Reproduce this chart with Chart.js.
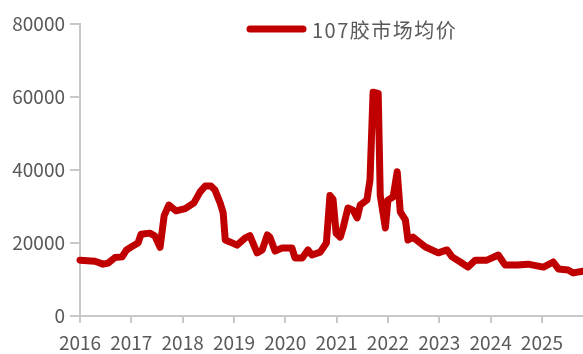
<!DOCTYPE html>
<html lang="zh">
<head>
    <meta charset="utf-8">
    <title>107胶市场均价</title>
    <script src="https://cdn.jsdelivr.net/npm/chart.js"></script>
    <style>
        body { margin: 0; background: #fff; }
    </style>
</head>
<body>
    <canvas id="priceChart" width="583" height="354"></canvas>
    <script>
        // 数据 (年份为小数位置)
        var seriesName = '107胶市场均价';
        var years = [
            2016.00, 2016.29, 2016.45, 2016.55, 2016.68, 2016.82, 2016.90, 2017.03, 2017.13, 2017.19,
            2017.36, 2017.46, 2017.56, 2017.64, 2017.73, 2017.87, 2018.05, 2018.22, 2018.34, 2018.44,
            2018.55, 2018.63, 2018.73, 2018.79, 2018.83, 2018.92, 2019.06, 2019.22, 2019.31, 2019.45,
            2019.55, 2019.65, 2019.70, 2019.80, 2019.94, 2020.13, 2020.19, 2020.33, 2020.44, 2020.52,
            2020.68, 2020.80, 2020.87, 2020.93, 2020.99, 2021.07, 2021.13, 2021.22, 2021.32, 2021.40,
            2021.46, 2021.59, 2021.65, 2021.71, 2021.81, 2021.85, 2021.95, 2022.00, 2022.10, 2022.18,
            2022.24, 2022.34, 2022.39, 2022.49, 2022.63, 2022.73, 2022.98, 2023.15, 2023.25, 2023.41,
            2023.56, 2023.70, 2023.93, 2024.15, 2024.28, 2024.52, 2024.73, 2025.03, 2025.22, 2025.32,
            2025.51, 2025.61, 2025.80
        ];
        var prices = [
            15300, 15000, 14200, 14500, 16000, 16200, 18000, 19200, 20000, 22400,
            22700, 21900, 18800, 27500, 30400, 28800, 29400, 31000, 34000, 35600,
            35600, 34500, 31000, 28200, 20800, 20300, 19400, 21400, 22000, 17300,
            18100, 22200, 21600, 17800, 18600, 18600, 15900, 15900, 18100, 16700,
            17500, 20000, 33000, 32000, 22700, 21600, 24400, 29600, 29000, 26900,
            30400, 31800, 37300, 61300, 61000, 33000, 24100, 31800, 32600, 39500,
            28500, 26300, 20800, 21600, 20000, 18900, 17300, 18100, 16200, 14800,
            13400, 15300, 15300, 16700, 14000, 14000, 14200, 13400, 14800, 12900,
            12600, 11800, 12300
        ];
        var xMin = 2016, xMax = 2025.8;
        var yTicks = [0, 20000, 40000, 60000, 80000];

        var lineColor = '#c00000';
        var axisColor = '#c8c8c8';
        var textColor = '#595959';

        var points = years.map(function (y, i) { return { x: y, y: prices[i] }; });

        // 图例画在绘图区内部
        var innerLegend = {
            id: 'innerLegend',
            afterDraw: function (chart) {
                var ctx = chart.ctx;
                ctx.save();
                ctx.strokeStyle = lineColor;
                ctx.lineWidth = 7;
                ctx.lineCap = 'round';
                ctx.beginPath();
                ctx.moveTo(250, 29);
                ctx.lineTo(303, 29);
                ctx.stroke();
                ctx.fillStyle = textColor;
                ctx.font = '20px "Noto Sans CJK SC", sans-serif';
                ctx.letterSpacing = '1.5px';
                ctx.textBaseline = 'middle';
                ctx.fillText(chart.data.datasets[0].label, 312, 30);
                ctx.restore();
            }
        };

        var ctx = document.getElementById('priceChart').getContext('2d');
        var myChart = new Chart(ctx, {
            type: 'line',
            data: {
                datasets: [{
                    label: seriesName,
                    data: points,
                    borderColor: lineColor,
                    backgroundColor: lineColor,
                    borderWidth: 7,
                    borderJoinStyle: 'round',
                    borderCapStyle: 'round',
                    pointRadius: 0,
                    tension: 0,
                    clip: 4
                }]
            },
            options: {
                responsive: false,
                animation: false,
                layout: { padding: { top: 24, right: 0, left: 0, bottom: 0 } },
                plugins: {
                    legend: { display: false },
                    tooltip: { enabled: false }
                },
                scales: {
                    x: {
                        type: 'linear',
                        min: xMin,
                        max: xMax,
                        afterFit: function (scale) { scale.height = 38; },
                        border: { color: axisColor, width: 2 },
                        grid: { drawOnChartArea: false, tickLength: 7, color: axisColor, lineWidth: 2 },
                        ticks: {
                            stepSize: 1,
                            includeBounds: false,
                            padding: 8,
                            color: textColor,
                            font: { family: '"Noto Sans CJK SC", sans-serif', size: 19 },
                            maxRotation: 0,
                            callback: function (v) { return String(v); }
                        }
                    },
                    y: {
                        min: yTicks[0],
                        max: yTicks[yTicks.length - 1],
                        afterFit: function (scale) { scale.width = 80; },
                        border: { color: axisColor, width: 2 },
                        grid: { drawOnChartArea: false, tickLength: 10, color: axisColor, lineWidth: 2 },
                        ticks: {
                            stepSize: 20000,
                            padding: 5,
                            color: textColor,
                            font: { family: '"Noto Sans CJK SC", sans-serif', size: 19 },
                            callback: function (v) { return String(v); }
                        }
                    }
                }
            },
            plugins: [innerLegend]
        });
    </script>
</body>
</html>
